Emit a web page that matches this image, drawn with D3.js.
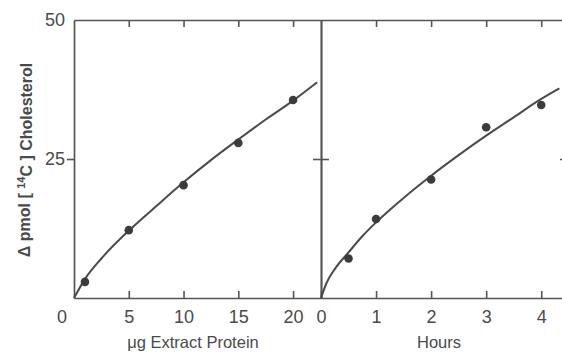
<!DOCTYPE html>
<html>
<head>
<meta charset="utf-8">
<script src="https://cdn.jsdelivr.net/npm/d3@7"></script>
<style>
  body { margin: 0; background: #fff; }
  svg text { font-family: "Liberation Sans", Arial, sans-serif; fill: #4a4a4a; }
</style>
</head>
<body>
<svg id="viz" width="562" height="352"></svg>
<script>
// ----------------------- DATA

// left panel: dose response
const proteinUg = [1, 5, 10, 15, 20];
const proteinChol = [2.9, 12.2, 20.3, 27.9, 35.6];
// fitted curve drawn through the panel
const proteinCurveX = [0, 1, 2.5, 5, 7.5, 10, 12.5, 15, 17.5, 20, 22.2];
const proteinCurveY = [0, 3.4, 7.1, 12.1, 16.5, 20.8, 24.8, 28.5, 32.1, 35.5, 38.8];

// right panel: time course
const hours = [0.5, 1, 2, 3, 4];
const hoursChol = [7.1, 14.2, 21.3, 30.7, 34.7];
const hoursCurveX = [0, 0.1, 0.25, 0.5, 0.75, 1, 1.5, 2, 2.5, 3, 3.5, 4, 4.33];
const hoursCurveY = [0, 2.7, 5.2, 8.2, 11.1, 13.6, 18.0, 22.0, 25.7, 29.2, 32.5, 35.8, 37.7];

const leftTicks = [5, 10, 15, 20];
const rightTicks = [0, 1, 2, 3, 4];
const yTicks = [25, 50];

// ----------------------- SETTINGS
const x0 = 74, xMid = 321, xEnd = 566;
const yTop = 20, yBot = 298;
const ink = '#555';

const svg = d3.select('#viz');

const y = d3.scaleLinear().domain([0, 50]).range([yBot, yTop]);
const xL = d3.scaleLinear().domain([0, 22.55]).range([x0, xMid]);
const xR = d3.scaleLinear().domain([0, 4.45]).range([xMid, xEnd]);

function styleAxis(g) {
  g.select('.domain').attr('stroke', ink).attr('stroke-width', 1.7);
  g.selectAll('.tick line').attr('stroke', ink).attr('stroke-width', 1.6);
  g.selectAll('.tick text')
    .style('font-size', '18px')
    .attr('fill', '#4a4a4a');
}

// ----------------------- AXES

// bottom, left panel (ticks pointing in)
svg.append('g')
  .attr('transform', `translate(0, ${yBot})`)
  .call(d3.axisBottom(xL).tickValues(leftTicks).tickSizeInner(-7).tickSizeOuter(0).tickPadding(12))
  .call(styleAxis);

// bottom, right panel
svg.append('g')
  .attr('transform', `translate(0, ${yBot})`)
  .call(d3.axisBottom(xR).tickValues(rightTicks).tickFormat(d3.format('d'))
    .tickSizeInner(-7).tickSizeOuter(0).tickPadding(12))
  .call(styleAxis);

// top edge, ticks pointing down, no labels
svg.append('g')
  .attr('transform', `translate(0, ${yTop})`)
  .call(d3.axisTop(xL).tickValues(leftTicks).tickSizeInner(-7).tickSizeOuter(0).tickFormat(''))
  .call(styleAxis);
svg.append('g')
  .attr('transform', `translate(0, ${yTop})`)
  .call(d3.axisTop(xR).tickValues(rightTicks.slice(1)).tickSizeInner(-7).tickSizeOuter(0).tickFormat(''))
  .call(styleAxis);

// left y axis
svg.append('g')
  .attr('transform', `translate(${x0}, 0)`)
  .call(d3.axisLeft(y).tickValues(yTicks).tickSizeInner(7).tickSizeOuter(0).tickPadding(2))
  .call(styleAxis)
  .call(g => g.selectAll('.tick').filter(d => d === 50).select('line').remove());

// middle divider with crossing tick at 25
svg.append('g')
  .attr('transform', `translate(${xMid}, 0)`)
  .call(d3.axisLeft(y).tickValues([25]).tickSizeInner(8).tickSizeOuter(0).tickFormat(''))
  .call(styleAxis);
svg.append('g')
  .attr('transform', `translate(${xMid}, 0)`)
  .call(d3.axisRight(y).tickValues([25]).tickSizeInner(8).tickSizeOuter(0).tickFormat(''))
  .call(styleAxis);

// right edge (mostly off canvas)
svg.append('g')
  .attr('transform', `translate(${xEnd}, 0)`)
  .call(d3.axisRight(y).tickValues([25]).tickSizeInner(-6).tickSizeOuter(0).tickFormat(''))
  .call(styleAxis);

// origin "0" of the left panel sits left of the corner
svg.append('text')
  .attr('x', x0 - 12)
  .attr('y', yBot + 12)
  .attr('dy', '0.71em')
  .attr('text-anchor', 'middle')
  .style('font-size', '18px')
  .text('0');

// ----------------------- CURVES + POINTS

const lineL = d3.line()
  .x((d, i) => xL(proteinCurveX[i]))
  .y(d => y(d))
  .curve(d3.curveMonotoneX);
const lineR = d3.line()
  .x((d, i) => xR(hoursCurveX[i]))
  .y(d => y(d))
  .curve(d3.curveMonotoneX);

svg.append('path')
  .datum(proteinCurveY)
  .attr('d', lineL)
  .attr('fill', 'none')
  .attr('stroke', '#4a4a4a')
  .attr('stroke-width', 2);

svg.append('path')
  .datum(hoursCurveY)
  .attr('d', lineR)
  .attr('fill', 'none')
  .attr('stroke', '#4a4a4a')
  .attr('stroke-width', 2);

svg.selectAll('.ptL')
  .data(proteinUg)
  .enter().append('circle')
  .attr('class', 'ptL')
  .attr('cx', d => xL(d))
  .attr('cy', (d, i) => y(proteinChol[i]))
  .attr('r', 4.3)
  .attr('fill', '#3c3c3c');

svg.selectAll('.ptR')
  .data(hours)
  .enter().append('circle')
  .attr('class', 'ptR')
  .attr('cx', d => xR(d))
  .attr('cy', (d, i) => y(hoursChol[i]))
  .attr('r', 4.3)
  .attr('fill', '#3c3c3c');

// ----------------------- TITLES

svg.append('text')
  .attr('x', 193)
  .attr('y', 348)
  .attr('text-anchor', 'middle')
  .style('font-size', '16.5px')
  .text('\u03bcg Extract Protein');

svg.append('text')
  .attr('x', 439)
  .attr('y', 348)
  .attr('text-anchor', 'middle')
  .style('font-size', '16.5px')
  .text('Hours');

const yTitle = svg.append('text')
  .attr('transform', 'translate(30, 160) rotate(-90)')
  .attr('text-anchor', 'middle')
  .style('font-size', '16px')
  .style('font-weight', 'bold');
yTitle.append('tspan').text('\u0394 pmol [ ');
yTitle.append('tspan').attr('dy', '-0.45em').style('font-size', '11px').text('14');
yTitle.append('tspan').attr('dy', '0.45em').text('C ] Cholesterol');
</script>
</body>
</html>
